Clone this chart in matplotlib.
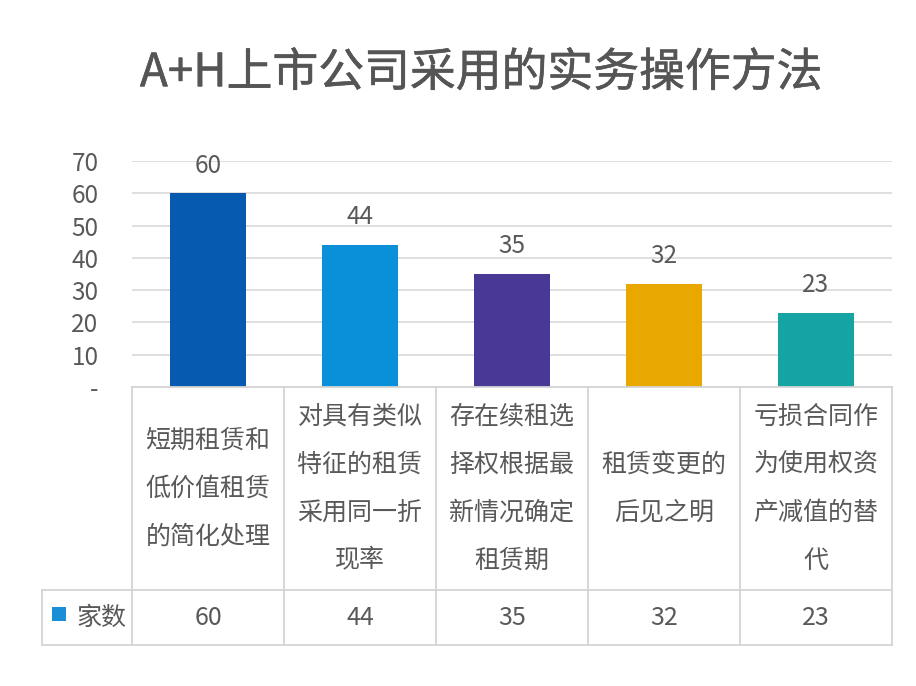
import matplotlib
matplotlib.use("Agg")
import matplotlib.pyplot as plt
from matplotlib.patches import Rectangle
import matplotlib.transforms as mtransforms
import matplotlib.patheffects as pe

plt.rcParams['font.family'] = ['Noto Sans CJK SC', 'DejaVu Sans']

title = "A+H上市公司采用的实务操作方法"
categories = [
    "短期租赁和\n低价值租赁\n的简化处理",
    "对具有类似\n特征的租赁\n采用同一折\n现率",
    "存在续租选\n择权根据最\n新情况确定\n租赁期",
    "租赁变更的\n后见之明",
    "亏损合同作\n为使用权资\n产减值的替\n代",
]
values = [60, 44, 35, 32, 23]
series_name = "家数"
yticks = [0, 10, 20, 30, 40, 50, 60, 70]
ytick_labels = ["-", "10", "20", "30", "40", "50", "60", "70"]
bar_colors = ["#065BB0", "#0A8FD9", "#4A3897", "#E9A800", "#16A3A3"]
legend_color = "#1A8FD6"

text_color = "#595959"
grid_color = "#D9D9D9"
table_color = "#D4D4D4"

W, H = 916, 686
fig = plt.figure(figsize=(W / 100, H / 100), dpi=100)
fig.patch.set_facecolor("white")

ax_left, ax_right, ax_top, ax_bottom = 132, 892, 161, 387
ax = fig.add_axes([ax_left / W, 1 - ax_bottom / H, (ax_right - ax_left) / W, (ax_bottom - ax_top) / H])

x = list(range(len(values)))
ax.bar(x, values, width=0.5, color=bar_colors, zorder=3)
ax.set_xlim(-0.5, len(values) - 0.5)
ax.set_ylim(0, 70)
ax.set_yticks(yticks)
ax.set_yticklabels(ytick_labels)
ax.tick_params(axis='y', length=0, pad=24, labelsize=17.5, labelcolor=text_color)
ax.set_xticks([])
for s in ax.spines.values():
    s.set_visible(False)
ax.yaxis.grid(True, color=grid_color, linewidth=1.2, zorder=0)
ax.set_axisbelow(True)

for xi, v in zip(x, values):
    ax.annotate(str(v), (xi, v), xytext=(0, 10.5), textcoords='offset points',
                ha='center', va='bottom', fontsize=17.5, color=text_color)

# Title
fig.text(0.5 * (143 + 820) / W, 1 - 73 / H, title, ha='center', va='center',
         fontsize=33, color="#555555", fontweight='normal',
         path_effects=[pe.withStroke(linewidth=0.4, foreground="#555555")])

# Data table drawn in blended coords (x: data, y: axes)
trans = mtransforms.blended_transform_factory(ax.transData, ax.transAxes)
px_per_cat = (ax_right - ax_left) / len(values)
y_head_bot = (ax_bottom - 590) / (ax_bottom - ax_top)
y_val_bot = (ax_bottom - 645) / (ax_bottom - ax_top)
x_leg_left = (42 - ax_left) / px_per_cat - 0.5
n = len(values)

def line(xs, ys):
    ax.plot(xs, ys, transform=trans, color=table_color, linewidth=1.3, clip_on=False, zorder=4)

line([-0.5, n - 0.5], [0, 0])
for i in range(n + 1):
    line([i - 0.5, i - 0.5], [0, y_val_bot])
line([x_leg_left, n - 0.5], [y_head_bot, y_head_bot])
line([x_leg_left, n - 0.5], [y_val_bot, y_val_bot])
line([x_leg_left, x_leg_left], [y_head_bot, y_val_bot])

y_head_mid = y_head_bot / 2
y_val_mid = (y_head_bot + y_val_bot) / 2
for xi, cat, v in zip(x, categories, values):
    ax.text(xi, y_head_mid, cat, transform=trans, ha='center', va='center',
            multialignment='center', fontsize=18, color=text_color, linespacing=2.1,
            clip_on=False)
    ax.text(xi, y_val_mid, str(v), transform=trans, ha='center', va='center',
            fontsize=18, color=text_color, clip_on=False)

# legend key
sq_x0 = (52 - ax_left) / px_per_cat - 0.5
sq_w = 14 / px_per_cat
sq_h = 14 / (ax_bottom - ax_top)
ax.add_patch(Rectangle((sq_x0, y_val_mid - sq_h / 2 + 0.015), sq_w, sq_h, transform=trans,
                       facecolor=legend_color, edgecolor='none', clip_on=False))
ax.text((76 - ax_left) / px_per_cat - 0.5, y_val_mid, series_name, transform=trans,
        ha='left', va='center', fontsize=18, color=text_color, clip_on=False)

fig.savefig("out.png", dpi=100, facecolor="white")
